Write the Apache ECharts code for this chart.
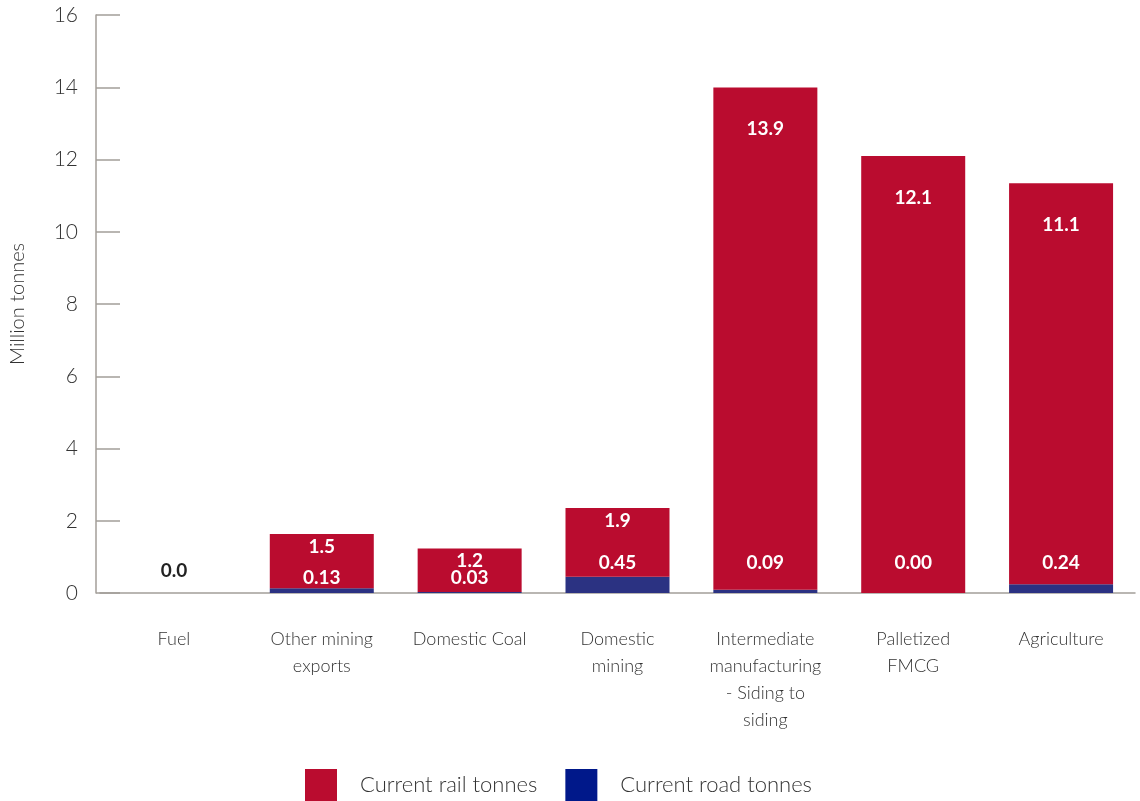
<!DOCTYPE html>
<html>
<head>
<meta charset="utf-8">
<script src="https://cdn.jsdelivr.net/npm/echarts@6/dist/echarts.min.js"></script>
<style>
  html, body { margin: 0; padding: 0; background: #fff; }
  #chart { width: 1140px; height: 801px; }
</style>
</head>
<body>
<div id="chart"></div>
<script>
// categories and values (million tonnes)
const categories = ['Fuel', 'Other mining\nexports', 'Domestic Coal', 'Domestic\nmining',
  'Intermediate\nmanufacturing\n- Siding to\nsiding', 'Palletized\nFMCG', 'Agriculture']
const railTonnes = [0, 1.5, 1.2, 1.9, 13.9, 12.1, 11.1]
const roadTonnes = [null, 0.13, 0.03, 0.45, 0.09, 0.00, 0.24]
const yTicks = [0, 2, 4, 6, 8, 10, 12, 14, 16]

const RED = '#BA0C2F'
const BLUE_BAR = '#2B3282'
const BLUE_KEY = '#00188A'
const AXIS = '#A39E99'
const FONT = 'Lato, "Open Sans", sans-serif'

const chart = echarts.init(document.getElementById('chart'))

// total height decides where labels sit, like the hand-placed labels in the source
const totals = railTonnes.map((v, i) => v + (roadTonnes[i] || 0))

const roadData = roadTonnes.map((v, i) => ({
  value: v,
  label: {
    show: v !== null,
    distance: totals[i] < 2 ? 6 : 21
  }
}))

const railData = railTonnes.map((v, i) => {
  if (v === 0) {
    // empty bar: dark label on the axis
    return { value: v, label: { position: 'insideBottom', distance: 13, color: '#222' } }
  }
  return { value: v, label: { distance: totals[i] > 5 ? 32 : 3 } }
})

const labelBase = {
  show: true,
  color: '#fff',
  fontFamily: FONT,
  fontWeight: 'bold',
  fontSize: 19
}

chart.setOption({
  animation: false,
  grid: { left: 97, right: 5, top: 15, bottom: 208 },
  legend: {
    left: 305,
    bottom: 0,
    padding: 0,
    icon: 'rect',
    itemWidth: 32,
    itemHeight: 32,
    itemGap: 28,
    textStyle: { color: '#333', fontFamily: FONT, fontWeight: 300, fontSize: 22, padding: [0, 0, 0, 18] },
    data: [
      { name: 'Current rail tonnes', itemStyle: { color: RED } },
      { name: 'Current road tonnes', itemStyle: { color: BLUE_KEY } }
    ]
  },
  xAxis: {
    type: 'category',
    data: categories,
    axisLine: { lineStyle: { color: AXIS, width: 1.5 } },
    axisTick: { show: false },
    axisLabel: {
      color: '#333',
      fontFamily: FONT,
      fontWeight: 300,
      fontSize: 18,
      lineHeight: 27,
      margin: 33,
      interval: 0
    }
  },
  yAxis: {
    type: 'value',
    min: 0,
    max: yTicks[yTicks.length - 1],
    interval: yTicks[1] - yTicks[0],
    offset: 4,
    name: 'Million tonnes',
    nameLocation: 'middle',
    nameGap: 68,
    nameTextStyle: { color: '#333', fontFamily: FONT, fontWeight: 300, fontSize: 20 },
    axisLine: { show: true, lineStyle: { color: AXIS, width: 1.5 } },
    axisTick: { show: true, inside: true, length: 24, lineStyle: { color: AXIS, width: 1.5 } },
    splitLine: { show: false },
    axisLabel: { color: '#333', fontFamily: FONT, fontWeight: 300, fontSize: 21, margin: 18 }
  },
  series: [
    {
      name: 'Current road tonnes',
      type: 'bar',
      stack: 'total',
      barWidth: 104,
      itemStyle: { color: BLUE_BAR },
      label: Object.assign({}, labelBase, {
        position: 'insideBottom',
        formatter: p => p.value.toFixed(2)
      }),
      data: roadData
    },
    {
      name: 'Current rail tonnes',
      type: 'bar',
      stack: 'total',
      barWidth: 104,
      itemStyle: { color: RED },
      label: Object.assign({}, labelBase, {
        position: 'insideTop',
        formatter: p => p.value.toFixed(1)
      }),
      data: railData
    }
  ]
})
</script>
</body>
</html>
